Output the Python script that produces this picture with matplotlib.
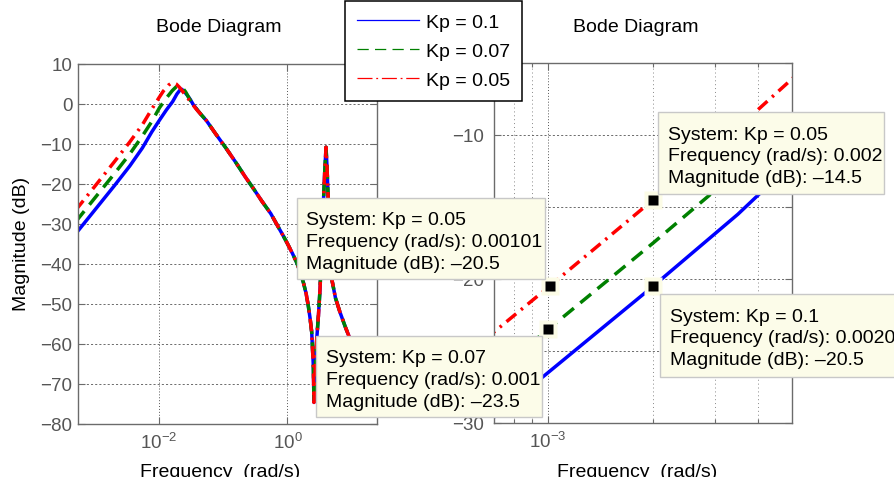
import numpy as np
import matplotlib
matplotlib.use('Agg')
from matplotlib import pyplot as plt
from matplotlib.lines import Line2D
from matplotlib.patches import Rectangle
from matplotlib.ticker import FixedLocator, FixedFormatter, NullLocator, NullFormatter, LogFormatterSciNotation

plt.rcParams['font.family'] = ['Liberation Sans', 'DejaVu Sans']
plt.rcParams['mathtext.fontset'] = 'custom'
plt.rcParams['mathtext.rm'] = 'Liberation Sans'
plt.rcParams['mathtext.it'] = 'Liberation Sans:italic'
plt.rcParams['mathtext.bf'] = 'Liberation Sans:bold'

#
# data
#
labels = ['Kp = 0.1', 'Kp = 0.07', 'Kp = 0.05']

# low frequency part, differs with Kp
w_lo_01 = [5.0e-4, 1.0e-3, 2.0e-3, 3.5e-3, 5.5e-3, 7.7e-3, 1.02e-2, 1.3e-2, 1.63e-2,
           1.9e-2, 2.1e-2, 2.25e-2, 2.45e-2, 2.75e-2, 3.05e-2, 3.4e-2, 4.0e-2]
m_lo_01 = [-32.5, -26.5, -20.5, -15.5, -11.0, -7.0, -4.0, -1.5, 0.6,
           2.5, 3.4, 3.7, 3.2, 2.2, 1.2, -0.1, -1.6]

w_lo_007 = [5.0e-4, 1.0e-3, 2.0e-3, 3.5e-3, 5.5e-3, 7.7e-3, 1.02e-2, 1.32e-2, 1.6e-2,
            1.85e-2, 2.07e-2, 2.3e-2, 2.6e-2, 3.0e-2, 3.4e-2, 4.0e-2]
m_lo_007 = [-29.5, -23.5, -17.5, -12.5, -8.0, -4.4, -0.9, 1.6, 3.3,
            4.3, 4.5, 4.1, 3.0, 1.2, -0.1, -1.6]

w_lo_005 = [5.0e-4, 1.01e-3, 2.0e-3, 3.5e-3, 5.5e-3, 7.7e-3, 1.02e-2, 1.17e-2, 1.4e-2,
            1.55e-2, 1.67e-2, 1.85e-2, 2.1e-2, 2.5e-2, 3.03e-2, 3.6e-2, 4.0e-2]
m_lo_005 = [-26.6, -20.5, -14.5, -9.5, -5.2, -1.3, 1.8, 3.25, 4.7,
            5.2, 5.3, 5.0, 4.1, 2.5, 0.75, -0.8, -1.7]

# high frequency part, same for all Kp
w_hi = [0.045, 0.055, 0.075, 0.11, 0.16, 0.22, 0.3, 0.4, 0.55, 0.7, 0.85, 1.0, 1.2, 1.4,
        1.6, 1.77, 1.95, 2.11, 2.25, 2.39, 2.53, 2.59, 2.7, 2.86, 3.05, 3.22, 3.52, 3.78,
        3.99, 4.14, 4.37, 4.61, 4.9, 5.6, 6.6, 8.0, 9.44, 13.0, 18.0, 30.0]
m_hi = [-2.6, -4.2, -7.3, -11.0, -14.8, -18.2, -21.3, -24.3, -27.4, -30.4, -32.8, -34.9, -37.4, -39.7,
        -42.3, -44.6, -47.3, -50.4, -53.5, -57.1, -65.4, -74.6, -66.5, -58.75, -52.5, -46.25, -30.0, -18.0,
        -10.8, -16.0, -26.0, -35.0, -43.75, -48.5, -52.1, -55.8, -58.75, -64.0, -69.5, -78.0]

# data tips
tip_w = [1.01e-3, 1.0e-3, 2.0e-3, 2.0e-3]
tip_m = [-20.5, -23.5, -14.5, -20.5]
tip_sys = ['Kp = 0.05', 'Kp = 0.07', 'Kp = 0.05', 'Kp = 0.1']
tip_wtxt = ['0.00101', '0.001', '0.002', '0.00202']

# right plot y ticks (the ones under the legend and the tip boxes are covered)
ytick2 = [-30, -25, -20, -15, -10, -5]
ylab2 = ['\u221230', '', '\u221220', '', '\u221210', '']

colors = ['#0000ff', '#008000', '#ff0000']
styles = ['-', (0, (4, 2.4)), (0, (3.6, 1.8, 0.7, 1.8))]

series_w = [w_lo_01 + w_hi, w_lo_007 + w_hi, w_lo_005 + w_hi]
series_m = [m_lo_01 + m_hi, m_lo_007 + m_hi, m_lo_005 + m_hi]

####################################################################################################
W, H = 894, 489
def fx(px): return px / W
def fy(py): return 1 - py / H

FS = 14
fig = plt.figure(figsize=(W / 100, H / 100), dpi=100)
ax1 = fig.add_axes([fx(78), fy(425), fx(377) - fx(78), fy(65) - fy(425)])
ax2 = fig.add_axes([fx(494), fy(424), fx(792) - fx(494), fy(64) - fy(424)])

gray = '#6b6b6b'
for ax in (ax1, ax2):
    for w, m, c, s in zip(series_w, series_m, colors, styles):
        ax.plot(w, m, color=c, ls=s, lw=2.5, solid_capstyle='butt', dash_capstyle='butt')
    ax.set_xscale('log')
    for sp in ax.spines.values():
        sp.set_color(gray)
        sp.set_linewidth(1.0)
    ax.tick_params(which='both', direction='in', top=True, right=True, color=gray,
                   labelcolor='#555555', labelsize=13.5, width=0.8)
    ax.tick_params(which='major', length=5)
    ax.tick_params(which='minor', length=3)
    ax.grid(True, which='major', axis='y', ls=(0, (2.5, 2.5)), color='#555555', lw=0.6)
    ax.grid(True, which='major', axis='x', ls=(0, (1, 2)), color='#555555', lw=0.7)
    ax.set_axisbelow(True)

ax1.set_xlim(10 ** -3.262, 10 ** 1.395)
ax1.set_ylim(-80, 10)
ax1.xaxis.set_major_locator(FixedLocator([1e-2, 1e0]))
ax1.xaxis.set_major_formatter(LogFormatterSciNotation())
ax1.xaxis.set_minor_locator(NullLocator())
ax1.set_yticks(np.arange(-80, 11, 10))
ax1.tick_params(axis='y', pad=4)
ax1.tick_params(axis='x', pad=6)

ax2.set_xlim(7e-4, 5e-3)
ax2.set_ylim(-30, -5)
ax2.xaxis.set_major_locator(FixedLocator([1e-3]))
ax2.xaxis.set_major_formatter(LogFormatterSciNotation())
ax2.xaxis.set_minor_locator(FixedLocator([8e-4, 9e-4, 2e-3, 3e-3, 4e-3]))
ax2.xaxis.set_minor_formatter(NullFormatter())
ax2.grid(True, which='minor', axis='x', ls=(0, (1, 3)), color='#888888', lw=0.7)
ax2.yaxis.set_major_locator(FixedLocator(ytick2))
ax2.yaxis.set_major_formatter(FixedFormatter(ylab2))
ax2.tick_params(axis='y', pad=7)
ax2.tick_params(axis='x', pad=6)

# data tip markers
ax2.plot(tip_w, tip_m, ls='none', marker='s', ms=13.5, mfc='#fcfce6', mec='none', zorder=5)
ax2.plot(tip_w, tip_m, ls='none', marker='s', ms=7.8, mfc='black', mec='none', zorder=6)

# titles and labels
for cx in (219, 636):
    fig.text(fx(cx), fy(27), 'Bode Diagram', ha='center', va='center', fontsize=FS)
    fig.text(fx(cx + 1), fy(477), 'Frequency  (rad/s)', ha='center', va='baseline', fontsize=FS)
fig.text(fx(22), fy(244), 'Magnitude (dB)', ha='center', va='center', rotation=90, fontsize=FS)

# data tip boxes
boxes = [(297, 199, 545, 280), (316, 337, 542, 418), (658, 113, 884, 195), (660, 295, 912, 378)]
for (l, t, r, b), s, wt, m in zip(boxes, tip_sys, tip_wtxt, tip_m):
    fig.add_artist(Rectangle((fx(l), fy(b)), fx(r) - fx(l), fy(t) - fy(b), transform=fig.transFigure,
                             facecolor='#fcfce9', edgecolor='#c8c8c8', lw=1.0, zorder=10))
    lines = ['System: ' + s, 'Frequency (rad/s): ' + wt,
             'Magnitude (dB): ' + ('%.1f' % m).replace('-', '\u2013')]
    for i, txt in enumerate(lines):
        fig.text(fx(l + 9.5), fy(t + 26.5 + 21.7 * i), txt, ha='left', va='baseline',
                 fontsize=FS, zorder=11)

# legend
handles = [Line2D([], [], color=c, ls=s, lw=0.9) for c, s in
           zip(colors, ['-', (0, (9, 5)), (0, (12, 3, 1.5, 3))])]
leg = fig.legend(handles, labels, loc='upper left', bbox_to_anchor=(fx(345), fy(2)),
                 borderaxespad=0, fontsize=FS, handlelength=3.2, handletextpad=0.36,
                 labelspacing=0.6, borderpad=0.62, fancybox=False, framealpha=1,
                 edgecolor='black')
leg.get_frame().set_linewidth(1.1)
leg.set_zorder(12)

# bottom of the picture is cropped in the reference
fig.add_artist(Rectangle((0, 0), 1, fy(478), transform=fig.transFigure,
                         facecolor='white', edgecolor='none', zorder=20))

plt.savefig('out.png', dpi=100)
